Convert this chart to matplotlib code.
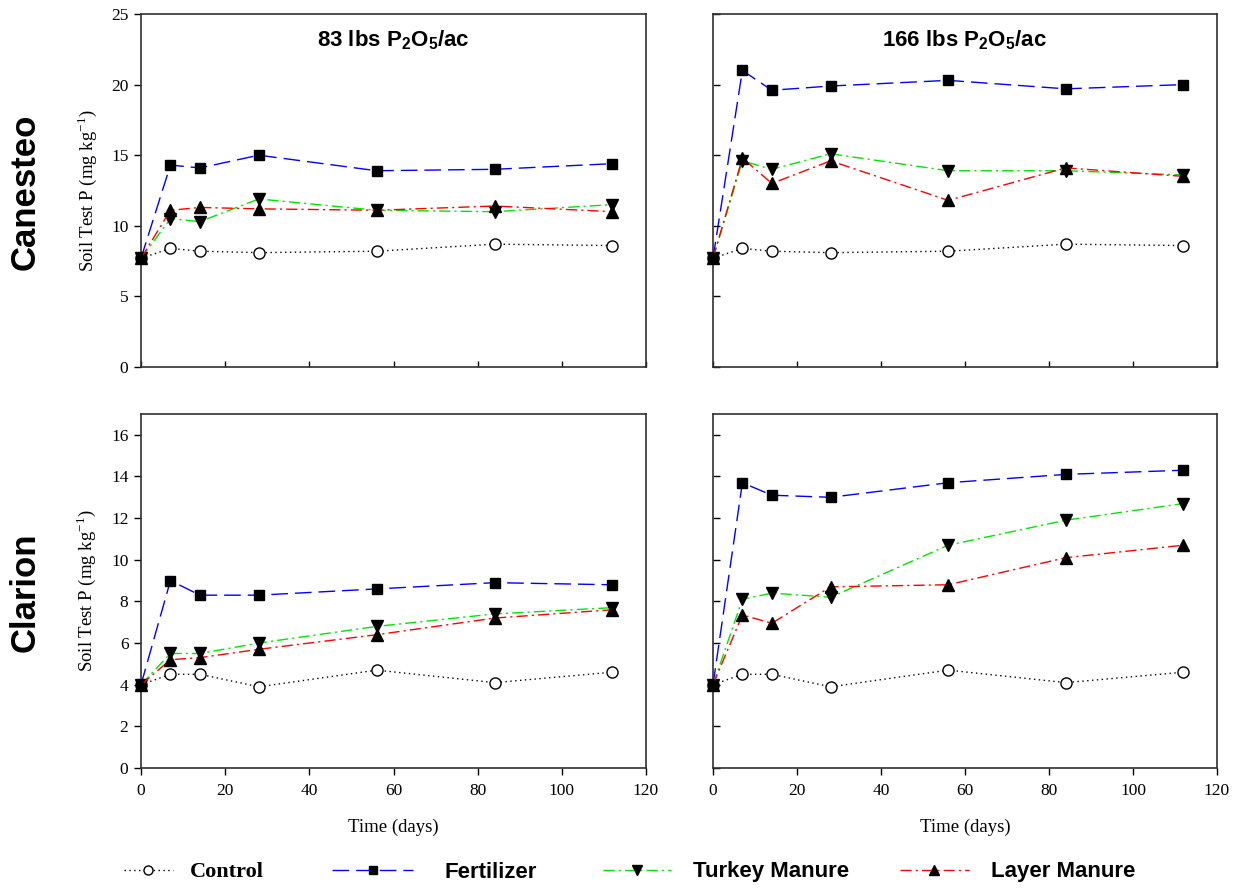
import matplotlib
matplotlib.use("Agg")
import matplotlib.pyplot as plt
from matplotlib.lines import Line2D

# ---------------- data ----------------
days = [0, 7, 14, 28, 56, 84, 112]

series_names = ["Control", "Fertilizer", "Turkey Manure", "Layer Manure"]

# Canesteo, 83 lbs
can83_control = [7.7, 8.4, 8.2, 8.1, 8.2, 8.7, 8.6]
can83_fert = [7.7, 14.3, 14.1, 15.0, 13.9, 14.0, 14.4]
can83_turkey = [7.7, 10.5, 10.3, 11.9, 11.1, 11.0, 11.5]
can83_layer = [7.7, 11.1, 11.3, 11.2, 11.1, 11.4, 11.0]

# Canesteo, 166 lbs
can166_control = [7.7, 8.4, 8.2, 8.1, 8.2, 8.7, 8.6]
can166_fert = [7.7, 21.0, 19.6, 19.9, 20.3, 19.7, 20.0]
can166_turkey = [7.7, 14.6, 14.0, 15.1, 13.9, 13.9, 13.6]
can166_layer = [7.7, 14.8, 13.0, 14.6, 11.8, 14.1, 13.5]

# Clarion, 83 lbs
cla83_control = [4.0, 4.5, 4.5, 3.9, 4.7, 4.1, 4.6]
cla83_fert = [4.0, 9.0, 8.3, 8.3, 8.6, 8.9, 8.8]
cla83_turkey = [4.0, 5.5, 5.5, 6.0, 6.8, 7.4, 7.7]
cla83_layer = [4.0, 5.2, 5.3, 5.7, 6.4, 7.2, 7.6]

# Clarion, 166 lbs
cla166_control = [4.0, 4.5, 4.5, 3.9, 4.7, 4.1, 4.6]
cla166_fert = [4.0, 13.7, 13.1, 13.0, 13.7, 14.1, 14.3]
cla166_turkey = [4.0, 8.1, 8.4, 8.2, 10.7, 11.9, 12.7]
cla166_layer = [4.0, 7.35, 6.95, 8.7, 8.8, 10.1, 10.7]

panel_titles = ["83 lbs P$_\\mathbf{2}$O$_\\mathbf{5}$/ac", "166 lbs P$_\\mathbf{2}$O$_\\mathbf{5}$/ac"]
row_labels = ["Canesteo", "Clarion"]
top_yticks = [0, 5, 10, 15, 20, 25]
bot_yticks = [0, 2, 4, 6, 8, 10, 12, 14, 16]
xticks = [0, 20, 40, 60, 80, 100, 120]

# ---------------- styles ----------------
styles = [
    dict(color="black", linestyle=(0, (1, 2.5)), marker="o", mfc="white", mec="black", ms=8, lw=1.0),
    dict(color="#0000ff", linestyle=(0, (12, 5)), marker="s", mfc="black", mec="black", ms=7.5, lw=1.0),
    dict(color="#00e600", linestyle=(0, (8, 3, 1.5, 3)), marker="v", mfc="black", mec="black", ms=8.5, lw=1.0),
    dict(color="#ff0000", linestyle=(0, (8, 3, 1.5, 3)), marker="^", mfc="black", mec="black", ms=8.5, lw=1.0),
]

serif = ["Liberation Serif", "DejaVu Serif"]
sans = ["Liberation Sans", "DejaVu Sans"]

plt.rcParams["mathtext.fontset"] = "custom"
plt.rcParams["mathtext.bf"] = "Liberation Sans:bold"
plt.rcParams["mathtext.rm"] = "Liberation Serif"

fig = plt.figure(figsize=(12.44, 8.90), dpi=100)

W, H = 1244.0, 890.0
def rect(x0, y0, x1, y1):
    return [x0 / W, 1 - y1 / H, (x1 - x0) / W, (y1 - y0) / H]

ax_tl = fig.add_axes(rect(141, 14, 646, 367))
ax_tr = fig.add_axes(rect(713, 14, 1217, 367))
ax_bl = fig.add_axes(rect(141, 414, 646, 768))
ax_br = fig.add_axes(rect(713, 414, 1217, 768))

panels = [
    (ax_tl, [can83_control, can83_fert, can83_turkey, can83_layer]),
    (ax_tr, [can166_control, can166_fert, can166_turkey, can166_layer]),
    (ax_bl, [cla83_control, cla83_fert, cla83_turkey, cla83_layer]),
    (ax_br, [cla166_control, cla166_fert, cla166_turkey, cla166_layer]),
]

for ax, data in panels:
    for vals, st in zip(data, styles):
        ax.plot(days, vals, color=st["color"], linestyle=st["linestyle"], lw=st["lw"],
                marker=st["marker"], markerfacecolor=st["mfc"], markeredgecolor=st["mec"],
                markersize=st["ms"], markeredgewidth=1.0, clip_on=False, zorder=3)
    ax.set_xlim(0, 120)
    ax.set_xticks(xticks)
    for sp in ax.spines.values():
        sp.set_color("#303030")
        sp.set_linewidth(1.2)

for ax in (ax_tl, ax_tr):
    ax.set_ylim(0, 25)
    ax.set_yticks(top_yticks)
for ax in (ax_bl, ax_br):
    ax.set_ylim(0, 17)
    ax.set_yticks(bot_yticks)

# tick styles
for ax in (ax_tl, ax_bl):
    ax.tick_params(axis="y", direction="out", length=5, width=1, labelsize=12.5, pad=4)
for ax in (ax_tr, ax_br):
    ax.tick_params(axis="y", direction="in", length=5, width=1, labelleft=False)
for ax in (ax_tl, ax_tr):
    ax.tick_params(axis="x", direction="in", length=4, width=1, labelbottom=False)
for ax in (ax_bl, ax_br):
    ax.tick_params(axis="x", direction="out", length=5, width=1, labelsize=12.5, pad=6)

for ax in (ax_tl, ax_tr, ax_bl, ax_br):
    for lab in ax.get_xticklabels() + ax.get_yticklabels():
        lab.set_family(serif)

# y labels
for ax in (ax_tl, ax_bl):
    ax.set_ylabel("Soil Test P (mg kg$^{-1}$)", family=serif, fontsize=13.5, labelpad=9)

# x labels
for ax in (ax_bl, ax_br):
    ax.set_xlabel("Time (days)", family=serif, fontsize=13.5, labelpad=14)

# panel titles
for ax, t in zip((ax_tl, ax_tr), panel_titles):
    ax.text(0.5, 0.925, t, transform=ax.transAxes, ha="center", va="center",
            family=sans, fontweight="bold", fontsize=16)

# row labels
fig.text(25 / W, 1 - 192 / H, row_labels[0], rotation=90, ha="center", va="center",
         family=sans, fontweight="bold", fontsize=25)
fig.text(25 / W, 1 - 592 / H, row_labels[1], rotation=90, ha="center", va="center",
         family=sans, fontweight="bold", fontsize=25)

# legends (one entry each, placed along the bottom)
# (series index, left x in px, handle length, text pad, font family)
leg_specs = [
    (0, 124, 2.2, 0.75, serif),
    (1, 332, 3.65, 1.4, sans),
    (2, 603, 3.05, 1.0, sans),
    (3, 900, 3.1, 1.0, sans),
]
for idx, xl, hl, tp, fam in leg_specs:
    st = styles[idx]
    h = Line2D([], [], color=st["color"], linestyle=st["linestyle"], lw=st["lw"],
               marker=st["marker"], markerfacecolor=st["mfc"], markeredgecolor=st["mec"],
               markersize=st["ms"] - 1.5, markeredgewidth=1.0)
    fig.legend([h], [series_names[idx]], loc="center left", bbox_to_anchor=(xl / W, 1 - 872 / H),
               frameon=False, borderpad=0, borderaxespad=0, handlelength=hl, handletextpad=tp,
               markerscale=1.0, prop=dict(family=fam, weight="bold", size=16))

fig.savefig("out.png", dpi=100)
